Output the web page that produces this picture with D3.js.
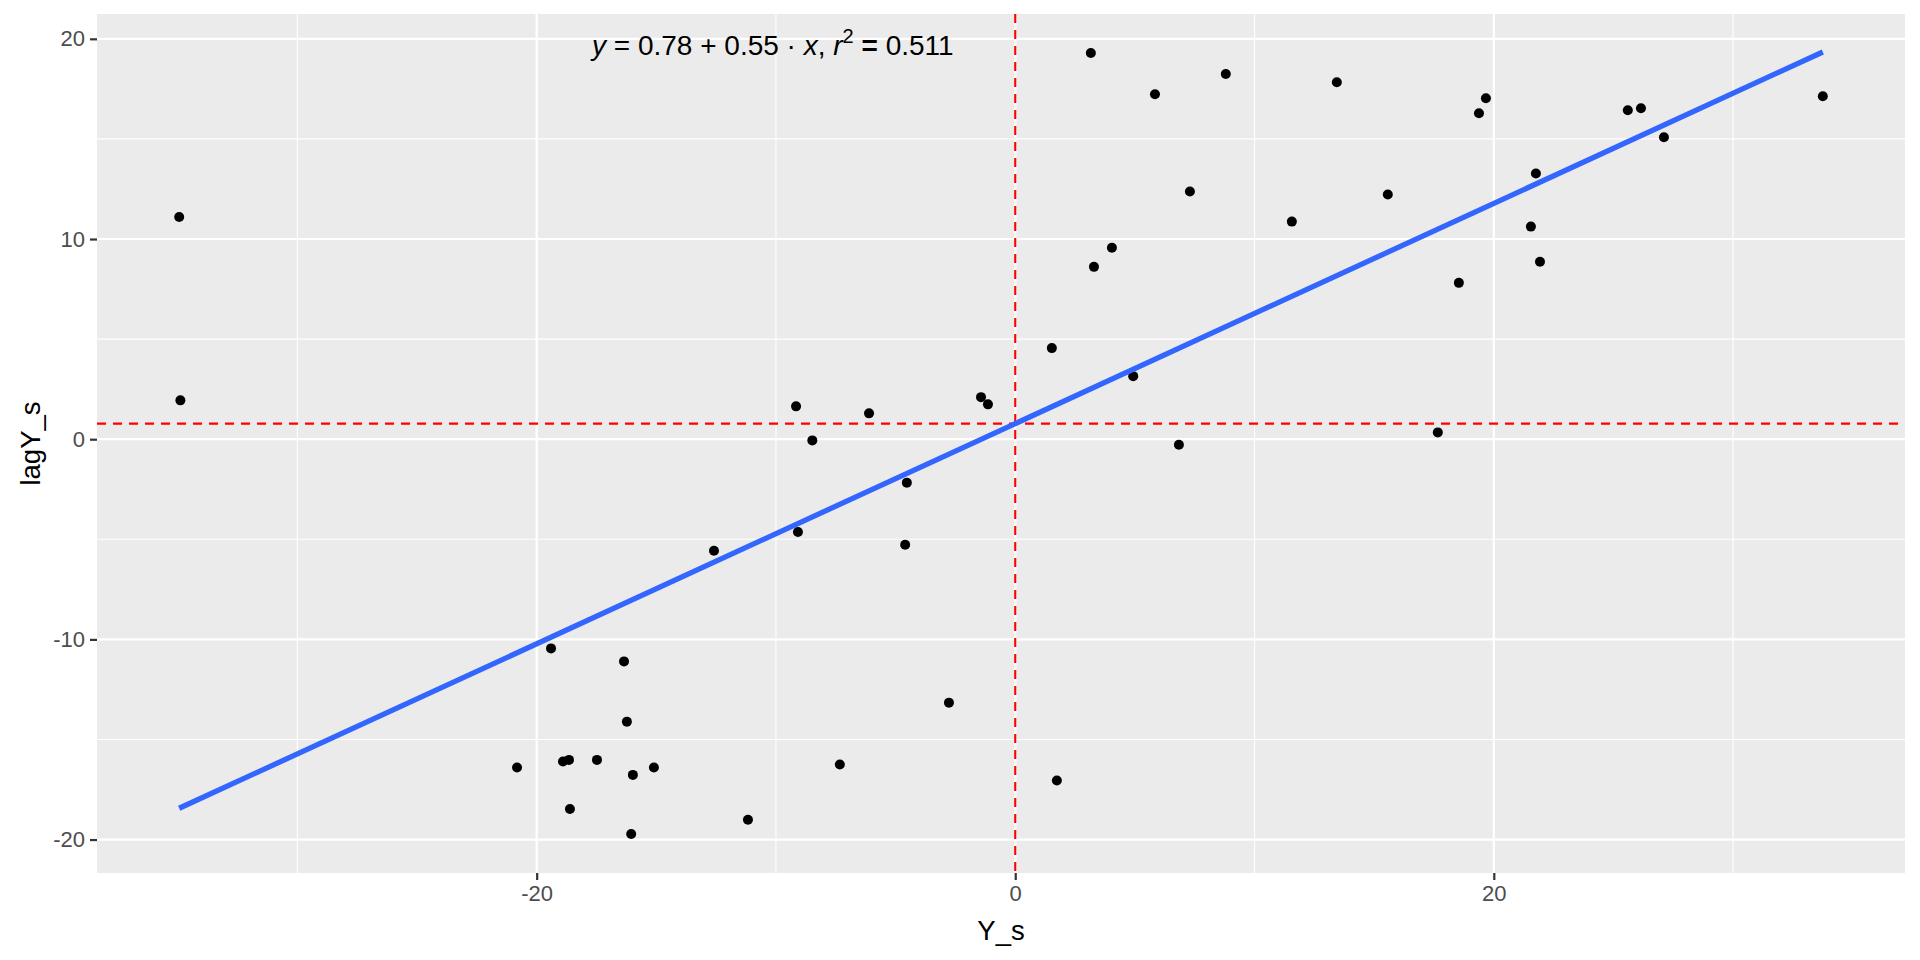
<!DOCTYPE html>
<html>
<head>
<meta charset="utf-8">
<script src="https://cdn.jsdelivr.net/npm/d3@7"></script>
<style>
  body { margin: 0; background: #ffffff; }
  text { font-family: "Liberation Sans", Arial, sans-serif; }
</style>
</head>
<body>
<div id="container"></div>
<script>
// scatter values
const ysValues = [-34.94, -34.89, -20.82, -19.40, -18.90, -18.65, -18.61, -17.48, -16.35, -16.23,
                  -16.05, -15.98, -15.10, -12.59, -11.17, -9.16, -9.08, -8.48, -7.33, -6.11,
                  -4.53, -4.60, -2.77, -1.43, -1.14, 1.53, 1.74, 3.16, 3.29, 4.04,
                  4.93, 5.84, 6.84, 7.30, 8.80, 11.56, 13.44, 15.57, 17.66, 18.54,
                  19.38, 19.67, 21.55, 21.76, 21.93, 25.60, 26.15, 27.11, 33.75];
const lagValues = [11.10, 1.94, -16.40, -10.45, -16.10, -16.02, -18.47, -16.02, -11.10, -14.11,
                   -19.72, -16.77, -16.40, -5.57, -19.01, 1.64, -4.64, -0.06, -16.25, 1.29,
                   -2.17, -5.27, -13.16, 2.10, 1.74, 4.55, -17.05, 19.29, 8.61, 9.56,
                   3.15, 17.23, -0.28, 12.37, 18.24, 10.87, 17.83, 12.22, 0.34, 7.81,
                   16.28, 17.03, 10.62, 13.27, 8.86, 16.43, 16.53, 15.08, 17.13];

// fit shown in the label
const fitCoef = [0.78, 0.55];
const rSquared = 0.511;
const refX = 0;
const refY = 0.78;

const xTicks = [-20, 0, 20];
const xMinor = [-30, -10, 10, 30];
const yTicks = [-20, -10, 0, 10, 20];
const yMinor = [-15, -5, 5, 15];

const width = 1920;
const height = 960;
const panelLeft = 97;
const panelRight = 1905;
const panelTop = 14;
const panelBottom = 873;

const points = ysValues.map((d, i) => ({x: d, y: lagValues[i]}));

// ggplot style 5% expansion
function expand(ext) {
  const pad = (ext[1] - ext[0]) * 0.05;
  return [ext[0] - pad, ext[1] + pad];
}

const xScale = d3.scaleLinear()
                 .domain(expand(d3.extent(ysValues)))
                 .range([panelLeft, panelRight]);

const yScale = d3.scaleLinear()
                 .domain(expand(d3.extent(lagValues)))
                 .range([panelBottom, panelTop]);

const svg = d3.select('#container')
              .append('svg')
              .attr('width', width)
              .attr('height', height);

//panel background
svg.append('rect')
   .attr('x', panelLeft)
   .attr('y', panelTop)
   .attr('width', panelRight - panelLeft)
   .attr('height', panelBottom - panelTop)
   .attr('fill', '#ebebeb');

const grid = svg.append('g');

//minor grid
grid.selectAll('.vminor')
    .data(xMinor)
    .enter()
    .append('line')
    .attr('x1', d => xScale(d))
    .attr('x2', d => xScale(d))
    .attr('y1', panelTop)
    .attr('y2', panelBottom)
    .attr('stroke', '#ffffff')
    .attr('stroke-width', 1.1);

grid.selectAll('.hminor')
    .data(yMinor)
    .enter()
    .append('line')
    .attr('x1', panelLeft)
    .attr('x2', panelRight)
    .attr('y1', d => yScale(d))
    .attr('y2', d => yScale(d))
    .attr('stroke', '#ffffff')
    .attr('stroke-width', 1.1);

//major grid
grid.selectAll('.vmajor')
    .data(xTicks)
    .enter()
    .append('line')
    .attr('x1', d => xScale(d))
    .attr('x2', d => xScale(d))
    .attr('y1', panelTop)
    .attr('y2', panelBottom)
    .attr('stroke', '#ffffff')
    .attr('stroke-width', 2.2);

grid.selectAll('.hmajor')
    .data(yTicks)
    .enter()
    .append('line')
    .attr('x1', panelLeft)
    .attr('x2', panelRight)
    .attr('y1', d => yScale(d))
    .attr('y2', d => yScale(d))
    .attr('stroke', '#ffffff')
    .attr('stroke-width', 2.2);

//reference lines
svg.append('line')
   .attr('x1', panelLeft)
   .attr('x2', panelRight)
   .attr('y1', yScale(refY))
   .attr('y2', yScale(refY))
   .attr('stroke', '#ff0000')
   .attr('stroke-width', 2.1)
   .attr('stroke-dasharray', '9,7');

svg.append('line')
   .attr('x1', xScale(refX))
   .attr('x2', xScale(refX))
   .attr('y1', panelTop)
   .attr('y2', panelBottom)
   .attr('stroke', '#ff0000')
   .attr('stroke-width', 2.1)
   .attr('stroke-dasharray', '9,7');

//points
svg.selectAll('circle')
   .data(points)
   .enter()
   .append('circle')
   .attr('cx', d => xScale(d.x))
   .attr('cy', d => yScale(d.y))
   .attr('r', 5)
   .attr('fill', '#000000');

//regression line
const xExt = d3.extent(ysValues);
svg.append('path')
   .datum(xExt.map(x => ({x: x, y: fitCoef[0] + fitCoef[1] * x})))
   .attr('d', d3.line().x(d => xScale(d.x)).y(d => yScale(d.y)))
   .attr('fill', 'none')
   .attr('stroke', '#3366ff')
   .attr('stroke-width', 5.3);

//axes (plain hyphen for negatives, like R)
const xAxis = d3.axisBottom(xScale)
                .tickValues(xTicks)
                .tickSize(7)
                .tickPadding(5)
                .tickFormat(d => String(d));

const yAxis = d3.axisLeft(yScale)
                .tickValues(yTicks)
                .tickSize(7)
                .tickPadding(5)
                .tickFormat(d => String(d));

const gx = svg.append('g')
              .attr('transform', 'translate(0,' + panelBottom + ')')
              .call(xAxis);

const gy = svg.append('g')
              .attr('transform', 'translate(' + panelLeft + ',0)')
              .call(yAxis);

[gx, gy].forEach(g => {
  g.select('.domain').remove();
  g.selectAll('.tick line').attr('stroke', '#333333').attr('stroke-width', 2.2);
  g.selectAll('.tick text')
   .attr('fill', '#4d4d4d')
   .attr('font-size', 22)
   .style('font-family', '"Liberation Sans", Arial, sans-serif');
});

//axis titles
svg.append('text')
   .text('Y_s')
   .attr('x', (panelLeft + panelRight) / 2)
   .attr('y', 940)
   .attr('text-anchor', 'middle')
   .attr('font-size', 27.5)
   .attr('fill', '#000000');

svg.append('text')
   .text('lagY_s')
   .attr('transform', 'translate(40,' + ((panelTop + panelBottom) / 2) + ') rotate(-90)')
   .attr('text-anchor', 'middle')
   .attr('font-size', 27.5)
   .attr('fill', '#000000');

//equation label
const label = svg.append('text')
                 .attr('x', 592)
                 .attr('y', 55)
                 .attr('font-size', 28)
                 .attr('fill', '#000000');

label.append('tspan').attr('font-style', 'italic').text('y');
label.append('tspan').text(' = ' + fitCoef[0].toFixed(2) + ' + ' + fitCoef[1].toFixed(2) + ' \u00b7 ');
label.append('tspan').attr('font-style', 'italic').text('x');
label.append('tspan').text(',  ');
label.append('tspan').attr('font-style', 'italic').text('r');
label.append('tspan').attr('font-size', 20).attr('dy', -12).text('2');
label.append('tspan').attr('dy', 12).attr('font-weight', 'bold').text(' = ');
label.append('tspan').text(rSquared.toFixed(3));
</script>
</body>
</html>
